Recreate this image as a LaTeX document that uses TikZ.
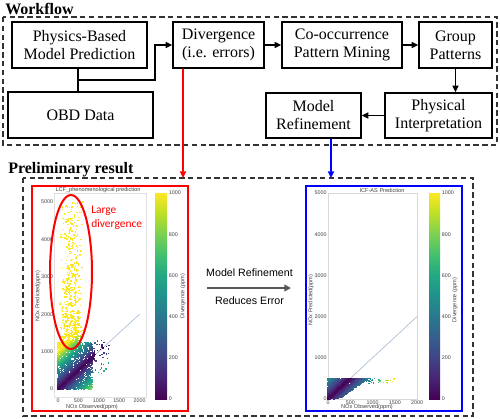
\documentclass[tikz,border=0pt]{standalone}
\usepackage{fontspec}
\setmainfont{Liberation Serif}
\newfontfamily\arialf{Liberation Sans}
\newfontfamily\calf{Carlito}
\usetikzlibrary{arrows.meta}
\definecolor{w0}{HTML}{440154}
\definecolor{w1}{HTML}{482475}
\definecolor{w2}{HTML}{414487}
\definecolor{w3}{HTML}{355F8D}
\definecolor{w4}{HTML}{2A788E}
\definecolor{w5}{HTML}{21918C}
\definecolor{w6}{HTML}{22A884}
\definecolor{w7}{HTML}{44BF70}
\definecolor{w8}{HTML}{7AD151}
\definecolor{w9}{HTML}{BDDF26}
\definecolor{w10}{HTML}{FDE725}
\definecolor{diagc}{HTML}{A9BFD6}
\definecolor{midgray}{HTML}{595959}
\pgfdeclareverticalshading{viridis}{100bp}{color(0bp)=(w0); color(25bp)=(w0); color(30bp)=(w1); color(35bp)=(w2); color(40bp)=(w3); color(45bp)=(w4); color(50bp)=(w5); color(55bp)=(w6); color(60bp)=(w7); color(65bp)=(w8); color(70bp)=(w9); color(75bp)=(w10); color(100bp)=(w10)}
% #1 obs, #2 pred, #3 x0 px, #4 y0 px, #5 x scale, #6 y scale
\newcommand\vdot[6]{%
  \pgfmathsetmacro\vdDv{min(abs(#2-#1)/1000,0.999)*10}%
  \pgfmathtruncatemacro\vdSg{\vdDv}%
  \pgfmathtruncatemacro\vdPp{(\vdDv-\vdSg)*100}%
  \ifcase\vdSg \colorlet{pc}{w1!\vdPp!w0}\or \colorlet{pc}{w2!\vdPp!w1}\or
  \colorlet{pc}{w3!\vdPp!w2}\or \colorlet{pc}{w4!\vdPp!w3}\or
  \colorlet{pc}{w5!\vdPp!w4}\or \colorlet{pc}{w6!\vdPp!w5}\or
  \colorlet{pc}{w7!\vdPp!w6}\or \colorlet{pc}{w8!\vdPp!w7}\or
  \colorlet{pc}{w9!\vdPp!w8}\else \colorlet{pc}{w10!\vdPp!w9}\fi
  \fill[pc] ({#3+(#1)*#5-0.7},{#4-(#2)*#6-0.7}) rectangle ++(1.4,1.4);}
\begin{document}
\begin{tikzpicture}[x=0.75pt,y=-0.75pt,
  box/.style={draw, line width=1pt, align=center, font=\fontsize{12}{13.5}\selectfont, inner sep=0pt, minimum height=34.5pt},
  arr/.style={line width=1pt, -{Triangle[length=5pt,width=4.5pt]}},
  wdash/.style={draw=black!80, line width=0.9pt, dash pattern=on 4pt off 2.6pt},
  ticklab/.style={font=\arialf\fontsize{4}{4.8}\selectfont, text=black!75, inner sep=0.5pt},
  axlab/.style={font=\arialf\fontsize{4.2}{5}\selectfont, text=black!75, inner sep=0.5pt},
  head/.style={font=\bfseries\fontsize{12}{14}\selectfont, inner sep=0pt}]
\useasboundingbox (0,0) rectangle (500,418);

% ---------- Workflow ----------
\node[head, anchor=base west] (wftitle) at (5,14) {Workflow};
\draw[wdash] (3,17) rectangle (497,145);

\node[box, minimum width=101.25pt] (phys) at (79.5,45) {Physics-Based\\Model Prediction};
\node[box, minimum width=108.75pt] (obd) at (80.5,115) {OBD Data};
\node[box, minimum width=68.25pt] (div) at (218.5,45) {Divergence\\(i.e. errors)};
\node[box, minimum width=90pt] (cooc) at (342,45) {Co-occurrence\\Pattern Mining};
\node[box, minimum width=54.75pt] (grp) at (455.5,45) {Group\\Patterns};
\node[box, minimum width=80.25pt, minimum height=33.75pt] (pint) at (438.5,115.5) {Physical\\Interpretation};
\node[box, minimum width=71.25pt, minimum height=33.75pt] (mref) at (313.5,115.5) {Model\\Refinement};

\coordinate (j) at (78,80);
\coordinate (jr) at (155,80);
\draw[line width=1pt] (phys.south -| j) -- (obd.north -| j);
\draw[arr] (j) -- (jr) |- (div.west);
\draw[arr] (div) -- (cooc);
\draw[arr] (cooc) -- (grp);
\draw[arr] (grp.south) -- (grp.south |- pint.north);
\draw[arr] (pint) -- (mref);

% ---------- Preliminary result ----------
\node[head, anchor=base west] (prtitle) at (8,173) {Preliminary result};
\draw[wdash] (23,178) rectangle (473,416);

\coordinate (redtip) at (183,178);
\coordinate (bluetip) at (331,178);
\draw[red, line width=1.2pt, -{Triangle[length=5pt,width=4.5pt]}] ([xshift=-26.6pt]div.south) -- (redtip);
\draw[blue, line width=1.2pt, -{Triangle[length=5pt,width=4.5pt]}] ([xshift=13.1pt]mref.south) -- (bluetip);

% ---------- left plot ----------
\draw[black!12, line width=0.4pt] (54,193) rectangle (146,397);
\draw[diagc, line width=0.5pt] (58,389) -- (139.6,314.2);
\pgfmathsetseed{7}
\foreach \i in {1,...,2000}{%
  \pgfmathsetmacro\ox{860*rnd^1.1-15}%
  \pgfmathsetmacro\oy{1250*rnd^1.15}%
  \vdot{\ox}{\oy}{58}{389}{0.0408}{0.0374}}
\foreach \i in {1,...,700}{%
  \pgfmathsetmacro\ox{900*rnd^1.3}%
  \pgfmathsetmacro\oy{max(0,\ox+260*(rnd-0.5))}%
  \vdot{\ox}{\oy}{58}{389}{0.0408}{0.0374}}
\foreach \i in {1,...,40}{%
  \pgfmathsetmacro\ox{850+400*rnd}%
  \pgfmathsetmacro\oy{400+900*rnd}%
  \vdot{\ox}{\oy}{58}{389}{0.0408}{0.0374}}
\foreach \i in {1,...,750}{%
  \pgfmathsetmacro\ox{330+300*(rnd+rnd-1)}%
  \pgfmathsetmacro\oy{1150+3850*rnd^2.6}%
  \vdot{\ox}{\oy}{58}{389}{0.0408}{0.0374}}
\foreach \v in {0,1000,...,5000}{%
  \node[ticklab, anchor=east] at (54,{389-\v*0.0374}) {\v};}
\foreach \v in {0,500,...,2000}{%
  \node[ticklab] at ({58+\v*0.0408},401) {\v};}
\node[axlab] (lxl) at (92,407) {NOx Observed(ppm)};
\node[axlab, rotate=90] (lyl) at (38,296) {NOx Predicted(ppm)};
\node[axlab] (ltit) at (98,190) {LCF\_phenomenological prediction};
\shade[shading=viridis] (155,193) rectangle (167,399);
\foreach \v in {0,200,...,1000}{%
  \node[ticklab, anchor=west] at (168,{399-\v*0.206}) {\v};}
\node[axlab, rotate=90] (lcl) at (183,296) {Divergence (ppm)};
\draw[red, line width=1.5pt] (71,272) ellipse [x radius=21, y radius=77];
\node[text=red, font=\calf\fontsize{8.6}{10.5}\selectfont, align=left, anchor=west, inner sep=0pt] (ldiv) at (91,218) {Large\\divergence};
\draw[red, line width=1.6pt] (32,186) rectangle (188,411);

% ---------- middle ----------
\node[font=\arialf\fontsize{8}{9}\selectfont] (mrt) at (249.5,273) {Model Refinement};
\node[font=\arialf\fontsize{8}{9}\selectfont] (ret) at (249.5,301) {Reduces Error};
\coordinate (ma) at (207,288);
\coordinate (mb) at (291,288);
\draw[midgray, line width=1.5pt, -{Triangle[length=5pt,width=5pt]}] (ma) -- (mb);

% ---------- right plot ----------
\draw[black!15, line width=0.4pt] (328,193) rectangle (417,399);
\draw[diagc, line width=0.5pt] (328,399) -- (417,316.6);
\foreach \i in {1,...,1600}{%
  \pgfmathsetmacro\oy{500*rnd^0.75}%
  \pgfmathsetmacro\ox{rnd^1.2*(260+1.3*\oy)}%
  \vdot{\ox}{\oy}{328}{399}{0.04455}{0.0412}}
\foreach \i in {1,...,400}{%
  \pgfmathsetmacro\ox{520*rnd}%
  \pgfmathsetmacro\oy{max(0,min(500,\ox+100*(rnd-0.5)))}%
  \vdot{\ox}{\oy}{328}{399}{0.04455}{0.0412}}
\foreach \i in {1,...,30}{%
  \pgfmathsetmacro\ox{850+650*rnd}%
  \pgfmathsetmacro\oy{380+120*rnd}%
  \vdot{\ox}{\oy}{328}{399}{0.04455}{0.0412}}
\foreach \v in {0,1000,...,5000}{%
  \node[ticklab, anchor=east] at (327.5,{399-\v*0.0412}) {\v};}
\foreach \v in {0,500,...,2000}{%
  \node[ticklab] at ({328+\v*0.04455},402.5) {\v};}
\node[axlab] (rxl) at (367,407.5) {NOx Observed(ppm)};
\node[axlab, rotate=90] (ryl) at (311,300) {NOx Predicted(ppm)};
\node[axlab] (rtit) at (382,190) {ICF-AS Prediction};
\shade[shading=viridis] (429,193) rectangle (440,399);
\foreach \v in {0,200,...,1000}{%
  \node[ticklab, anchor=west] at (441,{399-\v*0.206}) {\v};}
\node[axlab, rotate=90] (rcl) at (455,300) {Divergence (ppm)};
\draw[blue, line width=1.6pt] (306,186) rectangle (462,411);
\end{tikzpicture}
\end{document}
